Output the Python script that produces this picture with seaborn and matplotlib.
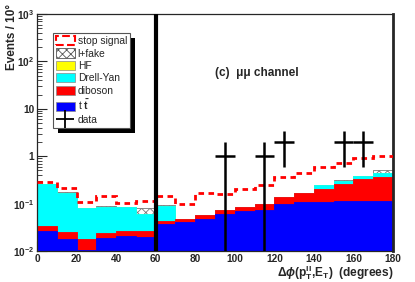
"""
Delta-phi(pT_ll, MET) distribution, mumu channel: stacked backgrounds,
stop signal on top and data with Poisson error bars.
"""
import numpy as np
import pandas as pd
import matplotlib
matplotlib.use("Agg")
import matplotlib.pyplot as plt
from matplotlib.patches import Patch, Rectangle
from matplotlib.lines import Line2D
from matplotlib.ticker import FixedLocator, MultipleLocator, LogLocator, NullFormatter
from matplotlib.transforms import IdentityTransform
import seaborn as sns

# 10-degree bins from 0 to 180
bin_edges = list(range(0, 190, 10))

# per-process yields (events / 10 deg)
ttbar = [0.026, 0.018, 0.0105, 0.019, 0.021, 0.020, 0.037, 0.040, 0.047,
         0.059, 0.070, 0.072, 0.097, 0.109, 0.106, 0.115, 0.112, 0.115]
diboson = [0.008, 0.007, 0.0075, 0.005, 0.005, 0.007, 0.006, 0.007, 0.010,
           0.013, 0.016, 0.028, 0.038, 0.056, 0.099, 0.145, 0.218, 0.245]
drell_yan = [0.226, 0.145, 0.062, 0.062, 0.057, 0.033, 0.048, 0.0, 0.0,
             0.0, 0.0, 0.0, 0.0, 0.0, 0.040, 0.040, 0.050, 0.080]
hf = [0.0] * 18
lfake = [0.0, 0.010, 0.0, 0.001, 0.0, 0.021, 0.001, 0.0, 0.0,
         0.0, 0.0, 0.0, 0.0, 0.005, 0.005, 0.010, 0.010, 0.070]
# dashed line: stop signal stacked on the total background
stop_stacked = [0.29, 0.21, 0.11, 0.147, 0.105, 0.115, 0.144, 0.100, 0.17,
                0.158, 0.205, 0.245, 0.37, 0.45, 0.58, 0.71, 0.93, 1.0]
data = [0, 0, 0, 0, 0, 0, 0, 0, 0, 1, 0, 1, 2, 0, 0, 2, 2, 0]

y_ticks = [1e-2, 1e-1, 1, 10, 1e2, 1e3]
y_ticklabels = [r"$10^{-2}$", r"$10^{-1}$", "1", "10", r"$10^{2}$", r"$10^{3}$"]
x_ticks = list(range(0, 200, 20))

sns.set_style("ticks")
plt.rcParams["font.family"] = ["Liberation Sans", "DejaVu Sans"]
plt.rcParams["mathtext.fontset"] = "custom"
plt.rcParams["mathtext.rm"] = "Liberation Sans:bold"
plt.rcParams["mathtext.bf"] = "Liberation Sans:bold"
plt.rcParams["mathtext.it"] = "Liberation Sans:bold:italic"
plt.rcParams["mathtext.sf"] = "Liberation Sans:bold"
plt.rcParams["hatch.color"] = "#777777"
plt.rcParams["hatch.linewidth"] = 0.6

edges = np.array(bin_edges)
centers = (edges[:-1] + edges[1:]) / 2

df = pd.DataFrame({
    "ttbar": ttbar,
    "diboson": diboson,
    "Drell-Yan": drell_yan,
    "HF": hf,
    "l+fake": lfake,
})
order = ["ttbar", "diboson", "Drell-Yan", "HF", "l+fake"]
cum = df[order].cumsum(axis=1)
colors = {"ttbar": "#0000ff", "diboson": "#ff0000", "Drell-Yan": "#00ffff",
          "HF": "#ffff00", "l+fake": "white"}

fig = plt.figure(figsize=(4.15, 2.82), dpi=100)
ax = fig.add_axes([37 / 415, 31 / 282, 356 / 415, 237 / 282])
ax.set_yscale("log")

# draw cumulative layers from the top of the stack down
for name in order[::-1]:
    layer = pd.DataFrame({"center": centers, "w": cum[name].to_numpy()})
    edge = "#777777" if name == "l+fake" else colors[name]
    sns.histplot(data=layer, x="center", weights="w", bins=bin_edges, element="step",
                 fill=True, color=colors[name], alpha=1, edgecolor=edge,
                 linewidth=0.6, ax=ax)
    if name == "l+fake":
        ax.collections[-1].set_facecolor("white")
        ax.collections[-1].set_hatch("xxxx")

ax.stairs(stop_stacked, edges, baseline=None, color="#ff0000",
          linestyle=(0, (2, 1.6)), lw=2, zorder=3)

# data with Poisson errors
d = np.array(data, dtype=float)
m = d > 0
lo = np.minimum(np.sqrt(d[m]), d[m] - 1e-6)
ax.errorbar(centers[m], d[m], xerr=5, yerr=[lo, np.sqrt(d[m])], fmt="none",
            ecolor="black", elinewidth=1.8, capsize=0, zorder=4)

# cut line
ax.axvline(60, color="black", lw=3, zorder=4)

ax.set_xlim(0, 180)
ax.set_ylim(1e-2, 1e3)
ax.xaxis.set_major_locator(FixedLocator(x_ticks))
ax.xaxis.set_minor_locator(MultipleLocator(5))
ax.set_xticklabels([str(t) for t in x_ticks])
ax.yaxis.set_major_locator(FixedLocator(y_ticks))
ax.set_yticklabels(y_ticklabels)
ax.yaxis.set_minor_locator(LogLocator(base=10, subs=np.arange(2, 10)))
ax.yaxis.set_minor_formatter(NullFormatter())
ax.tick_params(which="both", direction="in", labelsize=7.3, pad=2)
ax.tick_params(which="major", length=7, width=0.8)
ax.tick_params(which="minor", length=3.5, width=0.6)
for lab in ax.get_xticklabels() + ax.get_yticklabels():
    lab.set_fontweight("bold")
ax.set_xlabel("")
ax.set_ylabel("")
for s in ["top", "left", "bottom"]:
    ax.spines[s].set_visible(True)
    ax.spines[s].set_linewidth(0.9)
ax.spines["right"].set_visible(True)
ax.spines["right"].set_linewidth(2)

fig.text(393 / 415, 1 - 273 / 282,
         r"$\Delta\phi$(p$_{\mathrm{T}}^{\mathrm{ll}}$,E$_{\mathrm{T}}$)  (degrees)",
         ha="right", va="center", fontsize=8.6, fontweight="bold")
fig.text(12 / 415, 0.985, "Events / 10°", rotation=90, ha="center", va="top",
         fontsize=8.5, fontweight="bold")
ax.text(0.5, 0.75, "(c)  μμ channel", transform=ax.transAxes, ha="left",
        va="center", fontsize=8.5, fontweight="bold")

handles = [
    Patch(facecolor="white", edgecolor="#ff0000", linestyle="--", lw=1.5),
    Patch(facecolor="white", edgecolor="#555555", hatch="xxxx", lw=0.6),
    Patch(facecolor="#ffff00", edgecolor="#888888", lw=0.5),
    Patch(facecolor="#00ffff", edgecolor="#888888", lw=0.5),
    Patch(facecolor="#ff0000", edgecolor="#888888", lw=0.5),
    Patch(facecolor="#0000ff", edgecolor="#888888", lw=0.5),
    Line2D([], [], color="black", marker="+", markersize=13, mew=1.3, lw=0),
]
labels = ["stop signal", "l+fake", "HF", "Drell-Yan", "diboson",
          r"t $\bar{\mathrm{t}}$", "data"]
leg = ax.legend(handles, labels, loc="upper left", bbox_to_anchor=(0.045, 0.92),
                fontsize=7.4, frameon=True, fancybox=False, framealpha=1,
                edgecolor="#555555", borderpad=0.3, labelspacing=0.22,
                handlelength=1.8, handleheight=1.0, handletextpad=0.3,
                borderaxespad=0)
leg.get_frame().set_linewidth(0.8)
leg.set_zorder(6)

# solid black drop shadow behind the legend
fig.canvas.draw()
bb = leg.get_window_extent()
ax.add_patch(Rectangle((bb.x0 + 5, bb.y0 - 5), bb.width, bb.height,
                       transform=IdentityTransform(), facecolor="black",
                       edgecolor="none", zorder=5.5, clip_on=False))

fig.savefig("out.png", dpi=100)
plt.close(fig)
